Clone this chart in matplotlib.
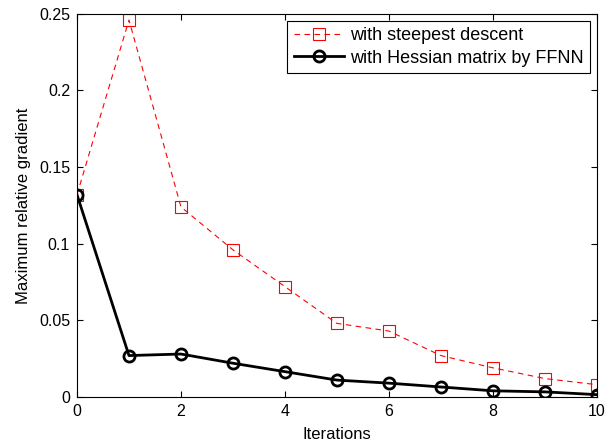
import matplotlib
matplotlib.use('Agg')
import matplotlib.pyplot as plt

plt.rcParams['font.family'] = ['Liberation Sans', 'DejaVu Sans']

iterations = [0, 1, 2, 3, 4, 5, 6, 7, 8, 9, 10]
steepest = [0.132, 0.246, 0.124, 0.096, 0.072, 0.048, 0.043, 0.027, 0.019, 0.012, 0.008]
hessian = [0.132, 0.027, 0.028, 0.022, 0.0165, 0.011, 0.009, 0.0065, 0.004, 0.0033, 0.0015]

fig = plt.figure(figsize=(6.13, 4.47), dpi=100)
ax = fig.add_axes([0.1256, 0.112, 0.848, 0.857])

ax.plot(iterations, steepest, 'r--s', linewidth=0.8, markersize=8,
        markerfacecolor='none', markeredgewidth=0.8, dashes=(5, 4),
        label='with steepest descent')
ax.plot(iterations, hessian, 'k-o', linewidth=2, markersize=8,
        markerfacecolor='none', markeredgewidth=2,
        label='with Hessian matrix by FFNN')

ax.set_xlim(0, 10)
ax.set_ylim(0, 0.25)
ax.set_xticks([0, 2, 4, 6, 8, 10])
ax.set_yticks([0, 0.05, 0.1, 0.15, 0.2, 0.25])
ax.set_yticklabels(['0', '0.05', '0.1', '0.15', '0.2', '0.25'])
ax.tick_params(direction='in', top=True, right=True, labelsize=11.5, length=4, pad=5)
ax.set_xlabel('Iterations', fontsize=12, labelpad=6)
ax.set_ylabel('Maximum relative gradient', fontsize=12, labelpad=6)

leg = ax.legend(loc='upper right', fontsize=13, fancybox=False, framealpha=1,
                edgecolor='black', handlelength=2.8, handletextpad=0.3,
                borderaxespad=0.4, borderpad=0.35, labelspacing=0.3)
leg.get_frame().set_linewidth(0.8)

fig.savefig('out.png', dpi=100)
